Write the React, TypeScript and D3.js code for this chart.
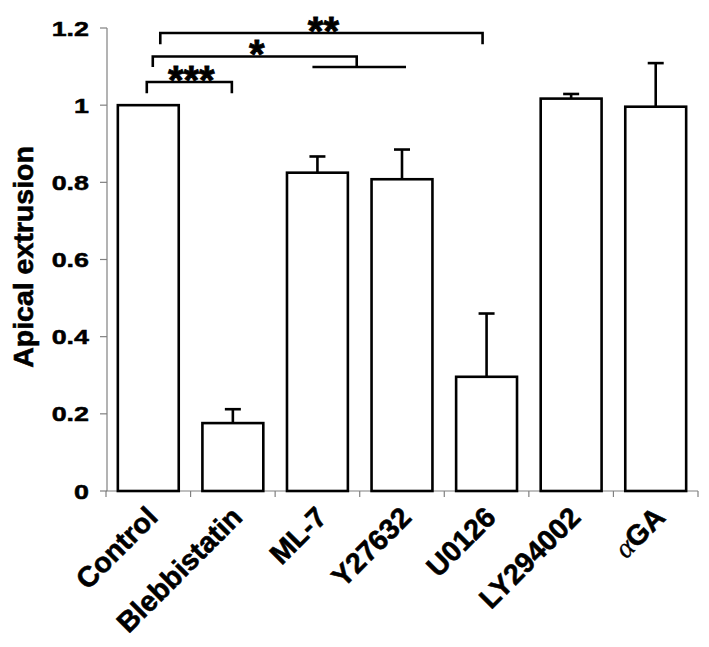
import React from "react";
import * as d3 from "d3";

const categories = ["Control", "Blebbistatin", "ML-7", "Y27632", "U0126", "LY294002", "αGA"];
const means = [1.0, 0.176, 0.825, 0.808, 0.296, 1.017, 0.996];
const errors = [0, 0.036, 0.042, 0.077, 0.164, 0.012, 0.113];
const yTicks = [0, 0.2, 0.4, 0.6, 0.8, 1, 1.2];
const yTickLabels = ["0", "0.2", "0.4", "0.6", "0.8", "1", "1.2"];

// significance brackets: from category index to category index (fractional = between)
const bracketLabels = ["***", "*", "**"];
const bracketFrom = [0, 0, 0];
const bracketTo = [1, 2.5, 4];
const bracketLevel = [1.06, 1.126, 1.187];
const bracketEnd = [1.031, 1.099, 1.158];
// sub-bracket linking ML-7 and Y27632
const subFrom = 2;
const subTo = 3;
const subLevel = 1.099;

const W = 709;
const H = 647;
const LEFT = 106;
const RIGHT = 698;
const TOP = 28;
const BOTTOM = 491;
const leftNudge = [-1.5, 4.5, 12];
const rightNudge = [-1, -3, -4];

const FONT = "'Liberation Sans', Arial, Helvetica, sans-serif";

export default function App() {
  const x = d3
    .scaleBand<string>()
    .domain(categories)
    .range([LEFT, RIGHT])
    .paddingInner(0.28)
    .paddingOuter(0.14);
  const step = x.step();
  const bw = x.bandwidth();
  const cx = (i: number) => {
    const lo = Math.floor(i);
    const frac = i - lo;
    return (x(categories[lo]) as number) + bw / 2 + frac * step;
  };
  const y = d3.scaleLinear().domain([0, 1.2]).range([BOTTOM, TOP]);
  const axisColor = "#808080";
  const sw = 2.6;
  const heavy = { stroke: "#000", strokeWidth: 0.6 };

  return (
    <svg
      width={W}
      height={H}
      style={{ position: "absolute", left: 0, top: 0, background: "#fff" }}
      fontFamily={FONT}
    >
      <rect x={0} y={0} width={W} height={H} fill="#fff" />
      {/* y axis */}
      <line x1={LEFT + 1} x2={LEFT + 1} y1={y(1.2)} y2={y(0)} stroke={axisColor} strokeWidth={1.2} />
      {yTicks.map((t, i) => (
        <g key={"yt" + i}>
          <line x1={LEFT - 6} x2={LEFT + 1} y1={y(t)} y2={y(t)} stroke={axisColor} strokeWidth={1.2} />
          <text
            transform={`translate(${LEFT - 17},${y(t) + 7.5}) scale(1.28,1)`}
            textAnchor="end"
            fontSize={21}
            fontWeight="bold"
            fill="#000"
            stroke="#000"
            strokeWidth={0.5}
          >
            {yTickLabels[i]}
          </text>
        </g>
      ))}
      {/* x axis */}
      <line x1={LEFT} x2={RIGHT} y1={y(0)} y2={y(0)} stroke={axisColor} strokeWidth={1.2} />
      {d3.range(categories.length + 1).map((i) => (
        <line
          key={"xt" + i}
          x1={LEFT + i * step}
          x2={LEFT + i * step}
          y1={y(0)}
          y2={y(0) + 6}
          stroke={axisColor}
          strokeWidth={1.2}
        />
      ))}
      {/* bars */}
      {categories.map((c, i) => (
        <g key={"b" + i}>
          {errors[i] > 0 && (
            <g stroke="#000" strokeWidth={sw}>
              <line x1={cx(i)} x2={cx(i)} y1={y(means[i])} y2={y(means[i] + errors[i])} />
              <line x1={cx(i) - 8} x2={cx(i) + 8} y1={y(means[i] + errors[i])} y2={y(means[i] + errors[i])} />
            </g>
          )}
          <rect
            x={x(c) as number}
            y={y(means[i])}
            width={bw}
            height={y(0) - y(means[i])}
            fill="#fff"
            stroke="#000"
            strokeWidth={sw}
          />
        </g>
      ))}
      {/* x labels */}
      {categories.map((c, i) => (
        <text
          key={"xl" + i}
          transform={`translate(${cx(i) + 11},${y(0) + 28}) rotate(-45)`}
          textAnchor="end"
          fontSize={28.5}
          fontWeight="bold"
          fill="#000"
          {...heavy}
        >
          {c.startsWith("α") ? (
            <>
              <tspan
                fontFamily="'Liberation Serif', 'DejaVu Serif', serif"
                fontStyle="italic"
                fontWeight="normal"
                strokeWidth={0.3}
              >
                α
              </tspan>
              <tspan>{c.slice(1)}</tspan>
            </>
          ) : (
            c
          )}
        </text>
      ))}
      {/* y label */}
      <text
        transform={`translate(33,257) rotate(-90)`}
        textAnchor="middle"
        fontSize={28.5}
        fontWeight="bold"
        fill="#000"
        {...heavy}
      >
        Apical extrusion
      </text>
      {/* significance brackets */}
      {bracketLabels.map((lab, k) => {
        const x1 = cx(bracketFrom[k]) + leftNudge[k];
        const x2 = cx(bracketTo[k]) + rightNudge[k];
        const yl = y(bracketLevel[k]);
        const ye = y(bracketEnd[k]);
        return (
          <g key={"br" + k}>
            <path
              d={`M${x1},${ye}V${yl}H${x2}V${ye}`}
              fill="none"
              stroke="#000"
              strokeWidth={sw}
            />
            <text
              x={(x1 + x2) / 2 + 2}
              y={yl - 10.5 + 22}
              textAnchor="middle"
              fontSize={40}
              fontWeight="bold"
              fill="#000"
              stroke="#000"
              strokeWidth={0.8}
            >
              {lab}
            </text>
          </g>
        );
      })}
      <line
        x1={cx(subFrom) - 5}
        x2={cx(subTo) + 4}
        y1={y(subLevel)}
        y2={y(subLevel)}
        stroke="#000"
        strokeWidth={sw}
      />
    </svg>
  );
}
